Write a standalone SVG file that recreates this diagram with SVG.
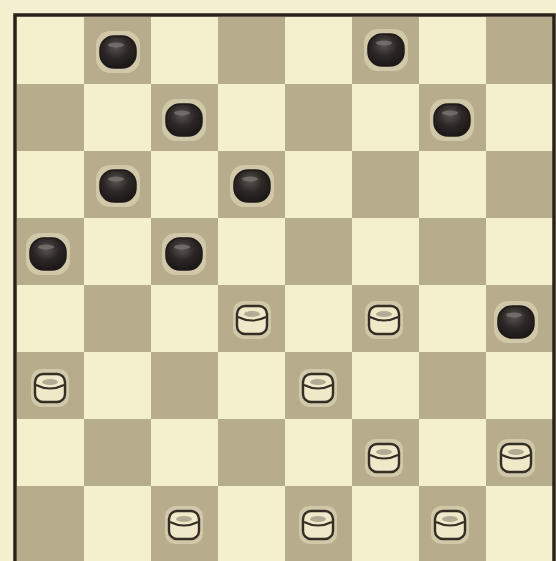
<svg xmlns="http://www.w3.org/2000/svg" width="556" height="561" viewBox="0 0 556 561">
<defs>
<style>
.light{fill:#f4efcc}
.dark{fill:#b7ad8c}
.halo{fill:#d0c8a8}
.bp{fill:url(#bg);stroke:#1e1a18;stroke-width:1.5}
.wp{fill:#efe9c9;stroke:#352e26;stroke-width:2.4}
.wl{fill:none;stroke:#352e26;stroke-width:2}
</style>
<radialGradient id="bg" cx="0.45" cy="0.35" r="0.7">
<stop offset="0" stop-color="#5a5450"/>
<stop offset="0.5" stop-color="#2c2726"/>
<stop offset="1" stop-color="#1a1616"/>
</radialGradient>
<g id="black">
<rect class="halo" x="-22" y="-21" width="44" height="42" rx="14"/>
<rect class="bp" x="-18" y="-16" width="36" height="32" rx="14"/>
<ellipse cx="-2" cy="-7" rx="8" ry="2.5" fill="#8a8480" opacity="0.6"/>
</g>
<g id="white">
<rect class="halo" x="-19" y="-19" width="38" height="38" rx="10"/>
<rect class="wp" x="-15" y="-14" width="30" height="28" rx="8"/>
<path class="wl" d="M-14,-3 Q0,4 14,-3"/>
<ellipse cx="0" cy="-6" rx="8" ry="3" fill="#9a9080" opacity="0.7"/>
</g>
</defs>
<rect width="556" height="561" fill="#f4efcf"/>
<g id="board">
<rect x="17" y="17" width="536" height="544" class="light"/>
<g id="dark-squares">
<rect class="dark" x="84" y="17" width="67" height="67"/>
<rect class="dark" x="218" y="17" width="67" height="67"/>
<rect class="dark" x="352" y="17" width="67" height="67"/>
<rect class="dark" x="486" y="17" width="67" height="67"/>
<rect class="dark" x="17" y="84" width="67" height="67"/>
<rect class="dark" x="151" y="84" width="67" height="67"/>
<rect class="dark" x="285" y="84" width="67" height="67"/>
<rect class="dark" x="419" y="84" width="67" height="67"/>
<rect class="dark" x="84" y="151" width="67" height="67"/>
<rect class="dark" x="218" y="151" width="67" height="67"/>
<rect class="dark" x="352" y="151" width="67" height="67"/>
<rect class="dark" x="486" y="151" width="67" height="67"/>
<rect class="dark" x="17" y="218" width="67" height="67"/>
<rect class="dark" x="151" y="218" width="67" height="67"/>
<rect class="dark" x="285" y="218" width="67" height="67"/>
<rect class="dark" x="419" y="218" width="67" height="67"/>
<rect class="dark" x="84" y="285" width="67" height="67"/>
<rect class="dark" x="218" y="285" width="67" height="67"/>
<rect class="dark" x="352" y="285" width="67" height="67"/>
<rect class="dark" x="486" y="285" width="67" height="67"/>
<rect class="dark" x="17" y="352" width="67" height="67"/>
<rect class="dark" x="151" y="352" width="67" height="67"/>
<rect class="dark" x="285" y="352" width="67" height="67"/>
<rect class="dark" x="419" y="352" width="67" height="67"/>
<rect class="dark" x="84" y="419" width="67" height="67"/>
<rect class="dark" x="218" y="419" width="67" height="67"/>
<rect class="dark" x="352" y="419" width="67" height="67"/>
<rect class="dark" x="486" y="419" width="67" height="67"/>
<rect class="dark" x="17" y="486" width="67" height="75"/>
<rect class="dark" x="151" y="486" width="67" height="75"/>
<rect class="dark" x="285" y="486" width="67" height="75"/>
<rect class="dark" x="419" y="486" width="67" height="75"/>
</g>
</g>
<g id="pieces">
<use id="b1" href="#black" x="118" y="52"/>
<use id="b2" href="#black" x="386" y="50"/>
<use id="b3" href="#black" x="184" y="120"/>
<use id="b4" href="#black" x="452" y="120"/>
<use id="b5" href="#black" x="118" y="186"/>
<use id="b6" href="#black" x="252" y="186"/>
<use id="b7" href="#black" x="48" y="254"/>
<use id="b8" href="#black" x="184" y="254"/>
<use id="b9" href="#black" x="516" y="322"/>
<use id="w1" href="#white" x="252" y="320"/>
<use id="w2" href="#white" x="384" y="320"/>
<use id="w3" href="#white" x="50" y="388"/>
<use id="w4" href="#white" x="318" y="388"/>
<use id="w5" href="#white" x="384" y="458"/>
<use id="w6" href="#white" x="516" y="458"/>
<use id="w7" href="#white" x="184" y="525"/>
<use id="w8" href="#white" x="318" y="525"/>
<use id="w9" href="#white" x="450" y="525"/>
</g>
<path id="frame" d="M15,561 V15 H554 V561" fill="none" stroke="#2a231b" stroke-width="3.5"/>
</svg>
